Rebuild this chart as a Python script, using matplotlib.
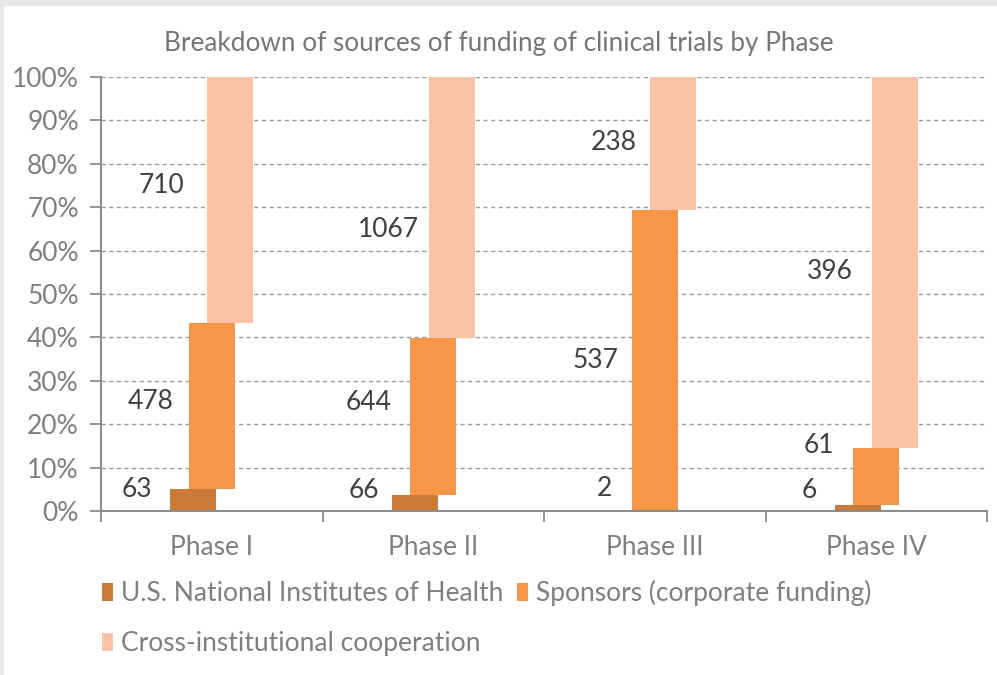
import matplotlib
matplotlib.use("Agg")
import matplotlib.pyplot as plt
import numpy as np
from matplotlib.patches import Rectangle

plt.rcParams['font.family'] = ['Lato', 'DejaVu Sans']

# ---- data ----
categories = ["Phase I", "Phase II", "Phase III", "Phase IV"]
series_names = ["U.S. National Institutes of Health",
                "Sponsors (corporate funding)",
                "Cross-institutional cooperation"]
nih = [63, 66, 2, 6]
sponsors = [478, 644, 537, 61]
cross = [710, 1067, 238, 396]
y_ticks = [0, 10, 20, 30, 40, 50, 60, 70, 80, 90, 100]
y_tick_labels = [f"{v}%" for v in y_ticks]

# label placement (percent height, and x centre in category units)
label_y_nih = [4.9, 4.8, 5.1, 4.8]
label_y_spon = [25.3, 25.0, 34.7, 15.1]
label_y_cross = [74.9, 64.9, 85.0, 55.1]
label_x_nih = [-0.336, -0.313, -0.227, -0.302]
label_x_spon = [-0.277, -0.290, -0.268, -0.258]
label_x_cross = [-0.228, -0.204, -0.183, -0.210]

colors = ["#CB7A38", "#F79646", "#FAC3A5"]
offsets = [-0.083, 0.0, 0.083]
bar_w = 0.208

fig = plt.figure(figsize=(9.97, 6.75), dpi=100)
fig.patch.set_facecolor("#E8E8E8")
fig.add_artist(Rectangle((4/997, 0), 1, 1 - 6/675, transform=fig.transFigure,
                         facecolor="white", edgecolor="none", zorder=0))

ax = fig.add_axes([101/997, 1 - 511/675, (987 - 101)/997, (511 - 77)/675])
ax.set_facecolor("none")

vals = np.array([nih, sponsors, cross], dtype=float)
tot = vals.sum(axis=0)
pct = vals / tot * 100
x = np.arange(len(categories))
bottom = np.zeros(len(categories))
for i in range(3):
    ax.bar(x + offsets[i], pct[i], bar_w, bottom=bottom, color=colors[i],
           label=series_names[i], zorder=3, linewidth=0)
    bottom = bottom + pct[i]

label_color = "#404040"
for lx, ly, v in [(label_x_nih, label_y_nih, nih),
                  (label_x_spon, label_y_spon, sponsors),
                  (label_x_cross, label_y_cross, cross)]:
    for j in range(len(categories)):
        ax.text(x[j] + lx[j], ly[j], str(v[j]), ha="center", va="center",
                fontsize=19, color=label_color, zorder=4)

ax.set_xlim(-0.5, len(categories) - 0.5)
ax.set_ylim(0, 100)
ax.set_yticks(y_ticks)
ax.set_yticklabels(y_tick_labels)
ax.set_xticks(x)
ax.set_xticklabels(categories)
ax.set_xticks(np.arange(-0.5, len(categories), 1), minor=True)

axis_col = "#8C8C8C"
tick_col = "#7F7F7F"
ax.tick_params(axis="y", length=8, width=1.3, color=axis_col, labelsize=19,
               labelcolor=tick_col, pad=8)
ax.tick_params(axis="x", which="major", length=0, labelsize=19,
               labelcolor=tick_col, pad=17)
ax.tick_params(axis="x", which="minor", length=8, width=1.3, color=axis_col)

for s in ["top", "right"]:
    ax.spines[s].set_visible(False)
for s in ["left", "bottom"]:
    ax.spines[s].set_color(axis_col)
    ax.spines[s].set_linewidth(1.5)
    ax.spines[s].set_zorder(5)

ax.yaxis.grid(True, linestyle=(0, (3, 2.5)), color="#9A9A9A", linewidth=1.0, zorder=1)
ax.set_axisbelow(True)

fig.text(0.5, 1 - 44/675, "Breakdown of sources of funding of clinical trials by Phase",
         ha="center", va="center", fontsize=18.8, color="#767676")

handles, labels = ax.get_legend_handles_labels()
order = [0, 2, 1]
leg = fig.legend([handles[i] for i in order], [labels[i] for i in order],
                 ncol=2, loc="upper left", bbox_to_anchor=(102/997, 1 - 580/675),
                 frameon=False, fontsize=19, handlelength=0.43, handleheight=0.65,
                 handletextpad=0.3, columnspacing=0.5, labelspacing=0.95,
                 borderaxespad=0, borderpad=0)
for t in leg.get_texts():
    t.set_color(tick_col)

fig.savefig("out.png", dpi=100, facecolor=fig.get_facecolor())
